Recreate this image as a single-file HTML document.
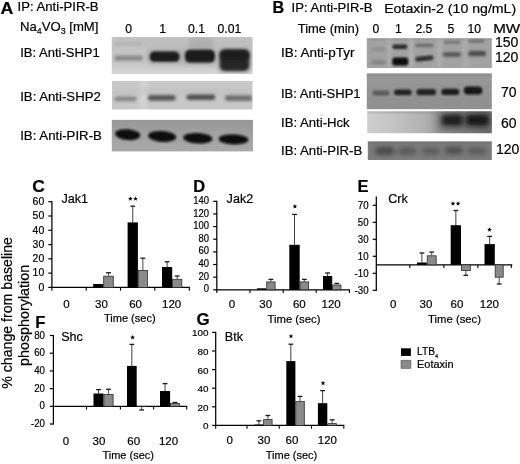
<!DOCTYPE html>
<html><head><meta charset="utf-8"><style>
html,body{margin:0;padding:0;background:#fff;width:520px;height:464px;overflow:hidden}
svg{display:block;font-family:"Liberation Sans",sans-serif}
text{stroke:#000;stroke-width:0.2px}
svg{filter:grayscale(1)}
</style></head><body>
<svg width="520" height="464" viewBox="0 0 520 464" font-family="Liberation Sans, sans-serif"><defs><filter id="bl1" x="-50%" y="-50%" width="200%" height="200%"><feGaussianBlur stdDeviation="1"/></filter><filter id="bl1_2" x="-50%" y="-50%" width="200%" height="200%"><feGaussianBlur stdDeviation="1.2"/></filter><filter id="bl1_4" x="-50%" y="-50%" width="200%" height="200%"><feGaussianBlur stdDeviation="1.4"/></filter><filter id="bl1_5" x="-50%" y="-50%" width="200%" height="200%"><feGaussianBlur stdDeviation="1.5"/></filter><filter id="bl2" x="-50%" y="-50%" width="200%" height="200%"><feGaussianBlur stdDeviation="2"/></filter><filter id="bl2_5" x="-50%" y="-50%" width="200%" height="200%"><feGaussianBlur stdDeviation="2.5"/></filter><filter id="bl3" x="-50%" y="-50%" width="200%" height="200%"><feGaussianBlur stdDeviation="3"/></filter><filter id="bl4" x="-50%" y="-50%" width="200%" height="200%"><feGaussianBlur stdDeviation="4"/></filter></defs><g><rect x="111.8" y="37" width="140.7" height="37" fill="#c6c6c6"/><defs><linearGradient id="a1v" x1="0" y1="0" x2="0" y2="1"><stop offset="0" stop-color="#000" stop-opacity="0.0"/><stop offset="0.7" stop-color="#fff" stop-opacity="0.0"/><stop offset="1" stop-color="#fff" stop-opacity="0.3"/></linearGradient></defs><rect x="111.8" y="37" width="140.7" height="37" fill="url(#a1v)"/><defs><clipPath id="a1c"><rect x="111.8" y="37" width="140.7" height="37"/></clipPath></defs><g clip-path="url(#a1c)"><rect x="113" y="38" width="139" height="9" rx="0" fill="#b8b8b8" fill-opacity="0.6" filter="url(#bl3)"/><rect x="114.5" y="55.5" width="28.30000000000001" height="5.299999999999997" rx="2.6499999999999986" fill="#888888" fill-opacity="1" filter="url(#bl1_5)"/><rect x="114.5" y="42.5" width="27.80000000000001" height="3.5" rx="1.75" fill="#a8a8a8" fill-opacity="0.5" filter="url(#bl1_5)"/><rect x="189" y="37" width="24" height="13" rx="4" fill="#a8a8a8" fill-opacity="0.7" filter="url(#bl2_5)"/><rect x="147" y="49" width="36" height="15" rx="5" fill="#909090" fill-opacity="0.5" filter="url(#bl2_5)"/><rect x="182" y="48" width="35" height="17" rx="5" fill="#909090" fill-opacity="0.5" filter="url(#bl2_5)"/><rect x="218" y="48" width="33" height="25" rx="5" fill="#909090" fill-opacity="0.5" filter="url(#bl2_5)"/><rect x="149.7" y="51.6" width="29.80000000000001" height="10.199999999999996" rx="4.5" fill="#1c1c1c" fill-opacity="1" filter="url(#bl1_2)"/><rect x="185" y="49.8" width="29.900000000000006" height="12.800000000000004" rx="5" fill="#1a1a1a" fill-opacity="1" filter="url(#bl1_2)"/><rect x="219.8" y="49.8" width="29.399999999999977" height="21.200000000000003" rx="5" fill="#262626" fill-opacity="1" filter="url(#bl1_4)"/><rect x="219.8" y="50" width="29.599999999999994" height="10" rx="5" fill="#1c1c1c" fill-opacity="0.8" filter="url(#bl1_5)"/></g></g><g><rect x="112" y="80.9" width="140.5" height="28.5" fill="#c8c8c8"/><defs><clipPath id="a2c"><rect x="112" y="80.9" width="140.5" height="28.5"/></clipPath></defs><g clip-path="url(#a2c)"><rect x="139.5" y="81" width="8.0" height="28.400000000000006" rx="0" fill="#dcdcdc" fill-opacity="0.6" filter="url(#bl2)"/><rect x="114" y="89" width="138" height="5" rx="0" fill="#bbbbbb" fill-opacity="0.5" filter="url(#bl2)"/><rect x="114.3" y="96.4" width="22.500000000000014" height="4.799999999999997" rx="2.3999999999999986" fill="#868686" fill-opacity="1" filter="url(#bl1_5)"/><rect x="147.8" y="94.9" width="28.0" height="5.8999999999999915" rx="2.9499999999999957" fill="#565656" fill-opacity="1" filter="url(#bl1_5)"/><rect x="186.5" y="94.5" width="28.80000000000001" height="5.5" rx="2.75" fill="#505050" fill-opacity="1" filter="url(#bl1_5)"/><rect x="224.8" y="95.2" width="27.69999999999999" height="5.799999999999997" rx="2.8999999999999986" fill="#6e6e6e" fill-opacity="1" filter="url(#bl1_5)"/></g></g><g><rect x="111.8" y="119.9" width="141.2" height="31.5" fill="#a4a4a4"/><defs><linearGradient id="a3v" x1="0" y1="0" x2="0" y2="1"><stop offset="0" stop-color="#000" stop-opacity="0.08"/><stop offset="1" stop-color="#fff" stop-opacity="0.05"/></linearGradient></defs><rect x="111.8" y="119.9" width="141.2" height="31.5" fill="url(#a3v)"/><defs><clipPath id="a3c"><rect x="111.8" y="119.9" width="141.2" height="31.5"/></clipPath></defs><g clip-path="url(#a3c)"><ellipse cx="127.7" cy="134.6" rx="12.6" ry="5.4" transform="rotate(5 127.7 134.6)" fill="#080808" fill-opacity="1" filter="url(#bl1)"/><ellipse cx="162.2" cy="136.4" rx="14.0" ry="5.5" transform="rotate(4 162.2 136.4)" fill="#080808" fill-opacity="1" filter="url(#bl1)"/><ellipse cx="197.8" cy="138.2" rx="14.6" ry="5.3" transform="rotate(3 197.8 138.2)" fill="#080808" fill-opacity="1" filter="url(#bl1)"/><ellipse cx="233.5" cy="139.4" rx="14.8" ry="5.0" transform="rotate(2 233.5 139.4)" fill="#080808" fill-opacity="1" filter="url(#bl1)"/></g></g><g><rect x="366.8" y="38.2" width="125" height="29.8" fill="#a2a2a2"/><defs><clipPath id="b1c"><rect x="366.8" y="38.2" width="125" height="29.8"/></clipPath></defs><g clip-path="url(#b1c)"><rect x="366.8" y="38.2" width="125.0" height="1.7999999999999972" rx="0" fill="#8a8a8a" fill-opacity="0.6" filter="url(#bl1)"/><rect x="387.5" y="38" width="4.0" height="30" rx="0" fill="#b4b4b4" fill-opacity="0.6" filter="url(#bl1_5)"/><rect x="408.5" y="38" width="5.0" height="30" rx="0" fill="#b8b8b8" fill-opacity="0.6" filter="url(#bl1_5)"/><rect x="437" y="38" width="5.5" height="30" rx="0" fill="#b4b4b4" fill-opacity="0.6" filter="url(#bl1_5)"/><rect x="462.7" y="38" width="5.300000000000011" height="30" rx="0" fill="#b4b4b4" fill-opacity="0.5" filter="url(#bl1_5)"/><rect x="371" y="47.5" width="14.399999999999977" height="3.5" rx="1.75" fill="#8c8c8c" fill-opacity="1" filter="url(#bl1_5)"/><rect x="371" y="60.2" width="15" height="4.0" rx="2.0" fill="#808080" fill-opacity="1" filter="url(#bl1_5)"/><rect x="392.3" y="44.6" width="15.099999999999966" height="4.399999999999999" rx="2.1999999999999993" fill="#2a2a2a" fill-opacity="1" filter="url(#bl1)"/><rect x="392.3" y="57.4" width="15.899999999999977" height="8.000000000000007" rx="2.5" fill="#0a0a0a" fill-opacity="1" filter="url(#bl1)"/><rect x="415.2" y="43.4" width="18.19999999999999" height="3.8000000000000043" rx="1.9000000000000021" fill="#6e6e6e" fill-opacity="1" filter="url(#bl1_2)"/><rect x="415.2" y="56.0" width="18.19999999999999" height="5.0" rx="2.5" fill="#333" fill-opacity="1" filter="url(#bl1_2)" transform="rotate(-6 424.29999999999995 58.5)"/><rect x="443.8" y="40.8" width="16.80000000000001" height="3.200000000000003" rx="1.6000000000000014" fill="#7a7a7a" fill-opacity="1" filter="url(#bl1_2)"/><rect x="442.8" y="52.4" width="18.19999999999999" height="4.200000000000003" rx="2.1000000000000014" fill="#4a4a4a" fill-opacity="1" filter="url(#bl1_5)"/><rect x="468.4" y="39.4" width="16.100000000000023" height="3.3999999999999986" rx="1.6999999999999993" fill="#707070" fill-opacity="1" filter="url(#bl1_2)"/><rect x="468.2" y="51.0" width="17.80000000000001" height="5.0" rx="2.5" fill="#464646" fill-opacity="1" filter="url(#bl1_5)"/></g></g><g><rect x="366.8" y="73.4" width="125" height="35.8" fill="#949494"/><defs><linearGradient id="b2v" x1="0" y1="0" x2="0" y2="1"><stop offset="0" stop-color="#fff" stop-opacity="0.05"/><stop offset="1" stop-color="#000" stop-opacity="0.03"/></linearGradient></defs><rect x="366.8" y="73.4" width="125" height="35.8" fill="url(#b2v)"/><defs><clipPath id="b2c"><rect x="366.8" y="73.4" width="125" height="35.8"/></clipPath></defs><g clip-path="url(#b2c)"><rect x="366.8" y="73.4" width="125.0" height="2.0999999999999943" rx="0" fill="#808080" fill-opacity="0.6" filter="url(#bl1)"/><rect x="372.5" y="90.6" width="17.0" height="5.0" rx="2.5" fill="#5a5a5a" fill-opacity="1" filter="url(#bl1_2)"/><rect x="394" y="89.4" width="17.69999999999999" height="5.8999999999999915" rx="2.9499999999999957" fill="#242424" fill-opacity="1" filter="url(#bl1_2)"/><rect x="416.5" y="89" width="19.5" height="6.299999999999997" rx="3.1499999999999986" fill="#202020" fill-opacity="1" filter="url(#bl1_2)"/><rect x="441.3" y="88.7" width="17.899999999999977" height="6.3999999999999915" rx="3.1999999999999957" fill="#1e1e1e" fill-opacity="1" filter="url(#bl1_2)"/><rect x="463.8" y="86.6" width="18.5" height="8.0" rx="4.0" fill="#181818" fill-opacity="1" filter="url(#bl1_2)"/></g></g><g><defs><linearGradient id="b3g" x1="0" y1="0" x2="1" y2="0"><stop offset="0" stop-color="#cfcfcf"/><stop offset="0.2" stop-color="#c4c4c4"/><stop offset="0.45" stop-color="#b2b2b2"/><stop offset="0.6" stop-color="#9e9e9e"/><stop offset="1" stop-color="#707070"/></linearGradient></defs><rect x="367.2" y="111.3" width="124.6" height="21.9" fill="url(#b3g)"/><defs><clipPath id="b3c"><rect x="367.2" y="111.3" width="124.6" height="21.9"/></clipPath></defs><g clip-path="url(#b3c)"><rect x="367.2" y="111.3" width="124.60000000000002" height="1.5" rx="0" fill="#707070" fill-opacity="0.5" filter="url(#bl1)"/><rect x="436" y="111" width="56" height="23" rx="0" fill="#5a5a5a" fill-opacity="0.55" filter="url(#bl4)"/><rect x="441.5" y="114.6" width="21.5" height="11.200000000000003" rx="4" fill="#1c1c1c" fill-opacity="1" filter="url(#bl2_5)"/><rect x="465.5" y="114.6" width="23.5" height="11.200000000000003" rx="4" fill="#161616" fill-opacity="1" filter="url(#bl2_5)"/></g></g><g><rect x="367.8" y="141.4" width="124" height="18.6" fill="#7c7c7c"/><defs><clipPath id="b4c"><rect x="367.8" y="141.4" width="124" height="18.6"/></clipPath></defs><g clip-path="url(#b4c)"><rect x="367.8" y="141.4" width="124.0" height="1.5999999999999943" rx="0" fill="#606060" fill-opacity="0.6" filter="url(#bl1)"/><rect x="375" y="147.2" width="19.5" height="7.400000000000006" rx="3.700000000000003" fill="#444" fill-opacity="1" filter="url(#bl2_5)"/><rect x="398" y="147.5" width="18.5" height="7.0" rx="3.5" fill="#565656" fill-opacity="1" filter="url(#bl2_5)"/><rect x="421.7" y="147.5" width="18.30000000000001" height="7.0" rx="3.5" fill="#5a5a5a" fill-opacity="1" filter="url(#bl2_5)"/><rect x="445" y="147.0" width="18" height="7.199999999999989" rx="3.5999999999999943" fill="#4e4e4e" fill-opacity="1" filter="url(#bl2_5)"/><rect x="467" y="147.5" width="19.600000000000023" height="7.0" rx="3.5" fill="#5a5a5a" fill-opacity="1" filter="url(#bl2_5)"/></g></g><text x="0.6" y="13.6" font-size="16.6" font-weight="bold" textLength="12.82" lengthAdjust="spacingAndGlyphs">A</text><text x="17.5" y="11.4" font-size="12.6" textLength="81.1" lengthAdjust="spacingAndGlyphs">IP: Anti-PIR-B</text><text x="20" y="30.9" font-size="12.6" textLength="78.4" lengthAdjust="spacingAndGlyphs">Na<tspan font-size="8.5" dy="3">4</tspan><tspan dy="-3">VO</tspan><tspan font-size="8.5" dy="3">3</tspan><tspan dy="-3"> [mM]</tspan></text><text x="125.2" y="32.9" font-size="12.2">0</text><text x="159.2" y="32.9" font-size="12.2">1</text><text x="188" y="32.9" font-size="12.2">0.1</text><text x="217.6" y="32.9" font-size="12.2">0.01</text><text x="20.2" y="56.9" font-size="12.8" textLength="79.6" lengthAdjust="spacingAndGlyphs">IB: Anti-SHP1</text><text x="20.2" y="101.1" font-size="12.8" textLength="80.6" lengthAdjust="spacingAndGlyphs">IB: Anti-SHP2</text><text x="20.2" y="139.5" font-size="12.8" textLength="81.7" lengthAdjust="spacingAndGlyphs">IB: Anti-PIR-B</text><text x="272.6" y="12.9" font-size="16.2" font-weight="bold">B</text><text x="291.6" y="11.9" font-size="12.6" textLength="81.0" lengthAdjust="spacingAndGlyphs">IP: Anti-PIR-B</text><text x="384.2" y="12.8" font-size="13" textLength="132" lengthAdjust="spacingAndGlyphs">Eotaxin-2 (10 ng/mL)</text><text x="297.8" y="32.9" font-size="12.6" textLength="61.3" lengthAdjust="spacingAndGlyphs">Time (min)</text><text x="372.6" y="32.6" font-size="12.2">0</text><text x="395" y="32.6" font-size="12.2">1</text><text x="415.4" y="32.6" font-size="12.2">2.5</text><text x="447.4" y="32.6" font-size="12.2">5</text><text x="467.6" y="32.6" font-size="12.2">10</text><text x="493.2" y="32.6" font-size="12.6" textLength="27" lengthAdjust="spacingAndGlyphs">MW</text><text x="281.0" y="57.1" font-size="12.8" textLength="73.4" lengthAdjust="spacingAndGlyphs">IB: Anti-pTyr</text><text x="281.0" y="98.1" font-size="12.8" textLength="79.6" lengthAdjust="spacingAndGlyphs">IB: Anti-SHP1</text><text x="281.0" y="127.2" font-size="12.8" textLength="68.7" lengthAdjust="spacingAndGlyphs">IB: Anti-Hck</text><text x="281.0" y="155.3" font-size="12.8" textLength="81.3" lengthAdjust="spacingAndGlyphs">IB: Anti-PIR-B</text><text x="495" y="46.6" font-size="14">150</text><text x="495" y="61.7" font-size="14">120</text><text x="501" y="96.8" font-size="14">70</text><text x="501" y="127.5" font-size="14">60</text><text x="496" y="154.3" font-size="14">120</text><line x1="51.9" y1="201.1" x2="51.9" y2="288.0" stroke="#000" stroke-width="1.25"/><line x1="48.3" y1="287.4" x2="51.9" y2="287.4" stroke="#000" stroke-width="1.2"/><line x1="48.3" y1="273.12" x2="51.9" y2="273.12" stroke="#000" stroke-width="1.2"/><line x1="48.3" y1="258.84" x2="51.9" y2="258.84" stroke="#000" stroke-width="1.2"/><line x1="48.3" y1="244.55999999999997" x2="51.9" y2="244.55999999999997" stroke="#000" stroke-width="1.2"/><line x1="48.3" y1="230.27999999999997" x2="51.9" y2="230.27999999999997" stroke="#000" stroke-width="1.2"/><line x1="48.3" y1="216.0" x2="51.9" y2="216.0" stroke="#000" stroke-width="1.2"/><line x1="48.3" y1="201.71999999999997" x2="51.9" y2="201.71999999999997" stroke="#000" stroke-width="1.2"/><line x1="51.9" y1="287.4" x2="189.8" y2="287.4" stroke="#000" stroke-width="1.3"/><line x1="51.9" y1="287.4" x2="51.9" y2="290.7" stroke="#000" stroke-width="1.1"/><line x1="86.2" y1="287.4" x2="86.2" y2="290.7" stroke="#000" stroke-width="1.1"/><line x1="120.5" y1="287.4" x2="120.5" y2="290.7" stroke="#000" stroke-width="1.1"/><line x1="154.8" y1="287.4" x2="154.8" y2="290.7" stroke="#000" stroke-width="1.1"/><line x1="189.3" y1="287.4" x2="189.3" y2="290.7" stroke="#000" stroke-width="1.1"/><rect x="93.2" y="284.0" width="10.099999999999994" height="3.3999999999999773" fill="#000"/><line x1="108.5" y1="275.8" x2="108.5" y2="272.7" stroke="#5a5a5a" stroke-width="1.1"/><line x1="106.1" y1="272.7" x2="110.9" y2="272.7" stroke="#1a1a1a" stroke-width="1.3"/><rect x="103.7" y="276.2" width="9.600000000000005" height="11.199999999999966" fill="#8a8a8a" stroke="#2e2e2e" stroke-width="0.8"/><line x1="132.75" y1="222.4" x2="132.75" y2="206.2" stroke="#2a2a2a" stroke-width="0.9"/><line x1="130.35" y1="206.2" x2="135.15" y2="206.2" stroke="#1a1a1a" stroke-width="1.3"/><rect x="127.6" y="222.4" width="10.300000000000011" height="64.99999999999997" fill="#000"/><line x1="142.85000000000002" y1="270" x2="142.85000000000002" y2="258.2" stroke="#5a5a5a" stroke-width="1.1"/><line x1="140.45000000000002" y1="258.2" x2="145.25000000000003" y2="258.2" stroke="#1a1a1a" stroke-width="1.3"/><rect x="138.3" y="270.4" width="9.100000000000005" height="16.99999999999998" fill="#8a8a8a" stroke="#2e2e2e" stroke-width="0.8"/><line x1="167.1" y1="267" x2="167.1" y2="261.8" stroke="#2a2a2a" stroke-width="0.9"/><line x1="164.7" y1="261.8" x2="169.5" y2="261.8" stroke="#1a1a1a" stroke-width="1.3"/><rect x="162.0" y="267.0" width="10.199999999999989" height="20.399999999999977" fill="#000"/><line x1="177.2" y1="278.9" x2="177.2" y2="276" stroke="#5a5a5a" stroke-width="1.1"/><line x1="174.79999999999998" y1="276" x2="179.6" y2="276" stroke="#1a1a1a" stroke-width="1.3"/><rect x="172.6" y="279.29999999999995" width="9.2" height="8.1" fill="#8a8a8a" stroke="#2e2e2e" stroke-width="0.8"/><text x="44.3" y="290.75159999999994" font-size="10.2" text-anchor="end" textLength="5.84" lengthAdjust="spacingAndGlyphs">0</text><text x="44.3" y="276.47159999999997" font-size="10.2" text-anchor="end" textLength="11.68" lengthAdjust="spacingAndGlyphs">10</text><text x="44.3" y="262.19159999999994" font-size="10.2" text-anchor="end" textLength="11.68" lengthAdjust="spacingAndGlyphs">20</text><text x="44.3" y="247.91159999999996" font-size="10.2" text-anchor="end" textLength="11.68" lengthAdjust="spacingAndGlyphs">30</text><text x="44.3" y="233.63159999999996" font-size="10.2" text-anchor="end" textLength="11.68" lengthAdjust="spacingAndGlyphs">40</text><text x="44.3" y="219.3516" font-size="10.2" text-anchor="end" textLength="11.68" lengthAdjust="spacingAndGlyphs">50</text><text x="44.3" y="205.07159999999996" font-size="10.2" text-anchor="end" textLength="11.68" lengthAdjust="spacingAndGlyphs">60</text><text x="32.2" y="192.2" font-size="16.5" font-weight="bold" textLength="12.64" lengthAdjust="spacingAndGlyphs">C</text><text x="61.4" y="202.8" font-size="12.6">Jak1</text><polygon points="130.40,196.30 131.02,197.95 132.78,198.03 131.40,199.12 131.87,200.82 130.40,199.85 128.93,200.82 129.40,199.12 128.02,198.03 129.78,197.95" fill="#000"/><polygon points="135.50,196.30 136.12,197.95 137.88,198.03 136.50,199.12 136.97,200.82 135.50,199.85 134.03,200.82 134.50,199.12 133.12,198.03 134.88,197.95" fill="#000"/><text x="63.26" y="307.9" font-size="11.5">0</text><text x="95.02" y="307.9" font-size="11.5">30</text><text x="129.22" y="307.9" font-size="11.5">60</text><text x="162.08" y="307.9" font-size="11.5">120</text><text x="103.9" y="321.5" font-size="11" textLength="51.8" lengthAdjust="spacingAndGlyphs">Time (sec)</text><line x1="216.8" y1="200.72" x2="216.8" y2="290.40000000000003" stroke="#000" stroke-width="1.25"/><line x1="213.20000000000002" y1="289.8" x2="216.8" y2="289.8" stroke="#000" stroke-width="1.2"/><line x1="213.20000000000002" y1="277.16" x2="216.8" y2="277.16" stroke="#000" stroke-width="1.2"/><line x1="213.20000000000002" y1="264.52" x2="216.8" y2="264.52" stroke="#000" stroke-width="1.2"/><line x1="213.20000000000002" y1="251.88" x2="216.8" y2="251.88" stroke="#000" stroke-width="1.2"/><line x1="213.20000000000002" y1="239.24" x2="216.8" y2="239.24" stroke="#000" stroke-width="1.2"/><line x1="213.20000000000002" y1="226.60000000000002" x2="216.8" y2="226.60000000000002" stroke="#000" stroke-width="1.2"/><line x1="213.20000000000002" y1="213.96" x2="216.8" y2="213.96" stroke="#000" stroke-width="1.2"/><line x1="213.20000000000002" y1="201.32" x2="216.8" y2="201.32" stroke="#000" stroke-width="1.2"/><line x1="216.8" y1="289.8" x2="349.9" y2="289.8" stroke="#000" stroke-width="1.3"/><line x1="216.8" y1="289.8" x2="216.8" y2="293.1" stroke="#000" stroke-width="1.1"/><line x1="250" y1="289.8" x2="250" y2="293.1" stroke="#000" stroke-width="1.1"/><line x1="283.2" y1="289.8" x2="283.2" y2="293.1" stroke="#000" stroke-width="1.1"/><line x1="316.2" y1="289.8" x2="316.2" y2="293.1" stroke="#000" stroke-width="1.1"/><line x1="349.4" y1="289.8" x2="349.4" y2="293.1" stroke="#000" stroke-width="1.1"/><rect x="257.0" y="288.3" width="9.300000000000011" height="1.5" fill="#000"/><line x1="270.9" y1="281.5" x2="270.9" y2="279.4" stroke="#5a5a5a" stroke-width="1.1"/><line x1="268.5" y1="279.4" x2="273.29999999999995" y2="279.4" stroke="#1a1a1a" stroke-width="1.3"/><rect x="266.7" y="281.9" width="8.399999999999988" height="7.900000000000011" fill="#8a8a8a" stroke="#2e2e2e" stroke-width="0.8"/><line x1="294.5" y1="244.8" x2="294.5" y2="214.4" stroke="#2a2a2a" stroke-width="0.9"/><line x1="292.1" y1="214.4" x2="296.9" y2="214.4" stroke="#1a1a1a" stroke-width="1.3"/><rect x="289.3" y="244.8" width="10.399999999999977" height="45.0" fill="#000"/><line x1="304.35" y1="281.5" x2="304.35" y2="279.4" stroke="#5a5a5a" stroke-width="1.1"/><line x1="301.95000000000005" y1="279.4" x2="306.75" y2="279.4" stroke="#1a1a1a" stroke-width="1.3"/><rect x="300.09999999999997" y="281.9" width="8.50000000000001" height="7.900000000000011" fill="#8a8a8a" stroke="#2e2e2e" stroke-width="0.8"/><line x1="327.6" y1="276" x2="327.6" y2="273" stroke="#2a2a2a" stroke-width="0.9"/><line x1="325.20000000000005" y1="273" x2="330.0" y2="273" stroke="#1a1a1a" stroke-width="1.3"/><rect x="323.0" y="276.0" width="9.199999999999989" height="13.800000000000011" fill="#000"/><line x1="336.79999999999995" y1="284.6" x2="336.79999999999995" y2="283.4" stroke="#5a5a5a" stroke-width="1.1"/><line x1="334.4" y1="283.4" x2="339.19999999999993" y2="283.4" stroke="#1a1a1a" stroke-width="1.3"/><rect x="332.59999999999997" y="285.0" width="8.399999999999988" height="4.799999999999988" fill="#8a8a8a" stroke="#2e2e2e" stroke-width="0.8"/><text x="209" y="292.40000000000003" font-size="10.2" text-anchor="end" textLength="5.27" lengthAdjust="spacingAndGlyphs">0</text><text x="209" y="279.76000000000005" font-size="10.2" text-anchor="end" textLength="10.55" lengthAdjust="spacingAndGlyphs">20</text><text x="209" y="267.12" font-size="10.2" text-anchor="end" textLength="10.55" lengthAdjust="spacingAndGlyphs">40</text><text x="209" y="254.48" font-size="10.2" text-anchor="end" textLength="10.55" lengthAdjust="spacingAndGlyphs">60</text><text x="209" y="241.84" font-size="10.2" text-anchor="end" textLength="10.55" lengthAdjust="spacingAndGlyphs">80</text><text x="209" y="229.20000000000002" font-size="10.2" text-anchor="end" textLength="15.81" lengthAdjust="spacingAndGlyphs">100</text><text x="209" y="216.56" font-size="10.2" text-anchor="end" textLength="15.81" lengthAdjust="spacingAndGlyphs">120</text><text x="209" y="203.92" font-size="10.2" text-anchor="end" textLength="15.81" lengthAdjust="spacingAndGlyphs">140</text><text x="193.2" y="191.7" font-size="16.5" font-weight="bold">D</text><text x="226.6" y="202.8" font-size="12.6">Jak2</text><polygon points="294.90,203.90 295.52,205.55 297.28,205.63 295.90,206.72 296.37,208.42 294.90,207.45 293.43,208.42 293.90,206.72 292.52,205.63 294.28,205.55" fill="#000"/><text x="228.66000000000003" y="308" font-size="11.5">0</text><text x="259.32000000000005" y="308" font-size="11.5">30</text><text x="292.92" y="308" font-size="11.5">60</text><text x="321.58" y="308" font-size="11.5">120</text><text x="267.6" y="322.5" font-size="11" textLength="52.8" lengthAdjust="spacingAndGlyphs">Time (sec)</text><line x1="376.3" y1="196.4" x2="376.3" y2="290.90000000000003" stroke="#000" stroke-width="1.25"/><line x1="372.7" y1="290.3" x2="376.3" y2="290.3" stroke="#000" stroke-width="1.2"/><line x1="372.7" y1="273.3" x2="376.3" y2="273.3" stroke="#000" stroke-width="1.2"/><line x1="372.7" y1="256.3" x2="376.3" y2="256.3" stroke="#000" stroke-width="1.2"/><line x1="372.7" y1="239.3" x2="376.3" y2="239.3" stroke="#000" stroke-width="1.2"/><line x1="372.7" y1="222.3" x2="376.3" y2="222.3" stroke="#000" stroke-width="1.2"/><line x1="372.7" y1="205.3" x2="376.3" y2="205.3" stroke="#000" stroke-width="1.2"/><line x1="376.3" y1="264.8" x2="512.3" y2="264.8" stroke="#000" stroke-width="1.3"/><line x1="409.8" y1="264.8" x2="409.8" y2="268.1" stroke="#000" stroke-width="1.1"/><line x1="443.9" y1="264.8" x2="443.9" y2="268.1" stroke="#000" stroke-width="1.1"/><line x1="477.8" y1="264.8" x2="477.8" y2="268.1" stroke="#000" stroke-width="1.1"/><line x1="511.3" y1="264.8" x2="511.3" y2="268.1" stroke="#000" stroke-width="1.1"/><line x1="421.9" y1="262.5" x2="421.9" y2="253" stroke="#2a2a2a" stroke-width="0.9"/><line x1="419.5" y1="253" x2="424.29999999999995" y2="253" stroke="#1a1a1a" stroke-width="1.3"/><rect x="417.0" y="262.5" width="9.800000000000011" height="2.3000000000000114" fill="#000"/><line x1="431.70000000000005" y1="255.4" x2="431.70000000000005" y2="252" stroke="#5a5a5a" stroke-width="1.1"/><line x1="429.30000000000007" y1="252" x2="434.1" y2="252" stroke="#1a1a1a" stroke-width="1.3"/><rect x="427.2" y="255.8" width="9.00000000000001" height="9.000000000000005" fill="#8a8a8a" stroke="#2e2e2e" stroke-width="0.8"/><line x1="455.85" y1="225.2" x2="455.85" y2="210.5" stroke="#2a2a2a" stroke-width="0.9"/><line x1="453.45000000000005" y1="210.5" x2="458.25" y2="210.5" stroke="#1a1a1a" stroke-width="1.3"/><rect x="450.7" y="225.2" width="10.300000000000011" height="39.60000000000002" fill="#000"/><line x1="465.85" y1="271" x2="465.85" y2="275.3" stroke="#5a5a5a" stroke-width="1.1"/><line x1="463.45000000000005" y1="275.3" x2="468.25" y2="275.3" stroke="#1a1a1a" stroke-width="1.3"/><rect x="461.4" y="264.8" width="8.899999999999988" height="5.799999999999988" fill="#8a8a8a" stroke="#2e2e2e" stroke-width="0.8"/><line x1="489.65" y1="244.1" x2="489.65" y2="236.4" stroke="#2a2a2a" stroke-width="0.9"/><line x1="487.25" y1="236.4" x2="492.04999999999995" y2="236.4" stroke="#1a1a1a" stroke-width="1.3"/><rect x="484.5" y="244.1" width="10.300000000000011" height="20.700000000000017" fill="#000"/><line x1="499.20000000000005" y1="277.6" x2="499.20000000000005" y2="284" stroke="#5a5a5a" stroke-width="1.1"/><line x1="496.80000000000007" y1="284" x2="501.6" y2="284" stroke="#1a1a1a" stroke-width="1.3"/><rect x="495.2" y="264.8" width="8.00000000000001" height="12.400000000000011" fill="#8a8a8a" stroke="#2e2e2e" stroke-width="0.8"/><text x="368.6" y="293.90000000000003" font-size="10.2" text-anchor="end" textLength="14.00" lengthAdjust="spacingAndGlyphs">-30</text><text x="368.6" y="276.90000000000003" font-size="10.2" text-anchor="end" textLength="14.00" lengthAdjust="spacingAndGlyphs">-10</text><text x="368.6" y="259.90000000000003" font-size="10.2" text-anchor="end" textLength="10.78" lengthAdjust="spacingAndGlyphs">10</text><text x="368.6" y="242.9" font-size="10.2" text-anchor="end" textLength="10.78" lengthAdjust="spacingAndGlyphs">30</text><text x="368.6" y="225.9" font-size="10.2" text-anchor="end" textLength="10.78" lengthAdjust="spacingAndGlyphs">50</text><text x="368.6" y="208.9" font-size="10.2" text-anchor="end" textLength="10.78" lengthAdjust="spacingAndGlyphs">70</text><text x="357.6" y="192.2" font-size="16.5" font-weight="bold">E</text><text x="388.2" y="202.8" font-size="12.6">Crk</text><polygon points="452.95,201.10 453.57,202.75 455.33,202.83 453.95,203.92 454.42,205.62 452.95,204.65 451.48,205.62 451.95,203.92 450.57,202.83 452.33,202.75" fill="#000"/><polygon points="458.05,201.10 458.67,202.75 460.43,202.83 459.05,203.92 459.52,205.62 458.05,204.65 456.58,205.62 457.05,203.92 455.67,202.83 457.43,202.75" fill="#000"/><polygon points="489.50,227.20 490.12,228.85 491.88,228.93 490.50,230.02 490.97,231.72 489.50,230.75 488.03,231.72 488.50,230.02 487.12,228.93 488.88,228.85" fill="#000"/><text x="390.06" y="307.7" font-size="11.5">0</text><text x="419.52000000000004" y="307.7" font-size="11.5">30</text><text x="450.52000000000004" y="307.7" font-size="11.5">60</text><text x="479.78" y="307.7" font-size="11.5">120</text><text x="428.1" y="323.1" font-size="11" textLength="52.9" lengthAdjust="spacingAndGlyphs">Time (sec)</text><line x1="53.4" y1="334.9" x2="53.4" y2="424.6" stroke="#000" stroke-width="1.25"/><line x1="49.8" y1="424.0" x2="53.4" y2="424.0" stroke="#000" stroke-width="1.2"/><line x1="49.8" y1="406.3" x2="53.4" y2="406.3" stroke="#000" stroke-width="1.2"/><line x1="49.8" y1="388.6" x2="53.4" y2="388.6" stroke="#000" stroke-width="1.2"/><line x1="49.8" y1="370.90000000000003" x2="53.4" y2="370.90000000000003" stroke="#000" stroke-width="1.2"/><line x1="49.8" y1="353.2" x2="53.4" y2="353.2" stroke="#000" stroke-width="1.2"/><line x1="49.8" y1="335.5" x2="53.4" y2="335.5" stroke="#000" stroke-width="1.2"/><line x1="53.4" y1="406.3" x2="187.2" y2="406.3" stroke="#000" stroke-width="1.3"/><line x1="86.5" y1="406.3" x2="86.5" y2="409.6" stroke="#000" stroke-width="1.1"/><line x1="120.4" y1="406.3" x2="120.4" y2="409.6" stroke="#000" stroke-width="1.1"/><line x1="153.6" y1="406.3" x2="153.6" y2="409.6" stroke="#000" stroke-width="1.1"/><line x1="186.7" y1="406.3" x2="186.7" y2="409.6" stroke="#000" stroke-width="1.1"/><line x1="98.5" y1="393.5" x2="98.5" y2="389.6" stroke="#2a2a2a" stroke-width="0.9"/><line x1="96.1" y1="389.6" x2="100.9" y2="389.6" stroke="#1a1a1a" stroke-width="1.3"/><rect x="93.5" y="393.5" width="10.0" height="12.800000000000011" fill="#000"/><line x1="108.5" y1="394" x2="108.5" y2="389.3" stroke="#5a5a5a" stroke-width="1.1"/><line x1="106.1" y1="389.3" x2="110.9" y2="389.3" stroke="#1a1a1a" stroke-width="1.3"/><rect x="103.9" y="394.4" width="9.2" height="11.900000000000011" fill="#8a8a8a" stroke="#2e2e2e" stroke-width="0.8"/><line x1="131.85" y1="365.9" x2="131.85" y2="344.4" stroke="#2a2a2a" stroke-width="0.9"/><line x1="129.45" y1="344.4" x2="134.25" y2="344.4" stroke="#1a1a1a" stroke-width="1.3"/><rect x="127.0" y="365.9" width="9.699999999999989" height="40.400000000000034" fill="#000"/><line x1="141.6" y1="407" x2="141.6" y2="410" stroke="#5a5a5a" stroke-width="1.1"/><line x1="139.2" y1="410" x2="144.0" y2="410" stroke="#1a1a1a" stroke-width="1.3"/><rect x="137.1" y="406.3" width="9.00000000000001" height="0.2999999999999886" fill="#8a8a8a" stroke="#2e2e2e" stroke-width="0.8"/><line x1="165.05" y1="391" x2="165.05" y2="383.6" stroke="#2a2a2a" stroke-width="0.9"/><line x1="162.65" y1="383.6" x2="167.45000000000002" y2="383.6" stroke="#1a1a1a" stroke-width="1.3"/><rect x="160.0" y="391.0" width="10.099999999999994" height="15.300000000000011" fill="#000"/><line x1="174.95" y1="403" x2="174.95" y2="402.5" stroke="#5a5a5a" stroke-width="1.1"/><line x1="172.54999999999998" y1="402.5" x2="177.35" y2="402.5" stroke="#1a1a1a" stroke-width="1.3"/><rect x="170.5" y="403.4" width="8.900000000000016" height="2.9000000000000115" fill="#8a8a8a" stroke="#2e2e2e" stroke-width="0.8"/><text x="45" y="427.1" font-size="10.2" text-anchor="end" textLength="14.00" lengthAdjust="spacingAndGlyphs">-20</text><text x="45" y="409.40000000000003" font-size="10.2" text-anchor="end" textLength="5.39" lengthAdjust="spacingAndGlyphs">0</text><text x="45" y="391.70000000000005" font-size="10.2" text-anchor="end" textLength="10.78" lengthAdjust="spacingAndGlyphs">20</text><text x="45" y="374.00000000000006" font-size="10.2" text-anchor="end" textLength="10.78" lengthAdjust="spacingAndGlyphs">40</text><text x="45" y="356.3" font-size="10.2" text-anchor="end" textLength="10.78" lengthAdjust="spacingAndGlyphs">60</text><text x="45" y="338.6" font-size="10.2" text-anchor="end" textLength="10.78" lengthAdjust="spacingAndGlyphs">80</text><text x="35.2" y="328.1" font-size="16.5" font-weight="bold">F</text><text x="61.2" y="341" font-size="12.6">Shc</text><polygon points="132.60,334.90 133.22,336.55 134.98,336.63 133.60,337.72 134.07,339.42 132.60,338.45 131.13,339.42 131.60,337.72 130.22,336.63 131.98,336.55" fill="#000"/><text x="62.86" y="444.6" font-size="11.5">0</text><text x="92.52" y="444.6" font-size="11.5">30</text><text x="127.32" y="444.6" font-size="11.5">60</text><text x="158.98000000000002" y="444.6" font-size="11.5">120</text><text x="102.4" y="459.4" font-size="11" textLength="51.6" lengthAdjust="spacingAndGlyphs">Time (sec)</text><line x1="215.7" y1="331.79999999999995" x2="215.7" y2="426.0" stroke="#000" stroke-width="1.25"/><line x1="212.1" y1="425.4" x2="215.7" y2="425.4" stroke="#000" stroke-width="1.2"/><line x1="212.1" y1="406.79999999999995" x2="215.7" y2="406.79999999999995" stroke="#000" stroke-width="1.2"/><line x1="212.1" y1="388.2" x2="215.7" y2="388.2" stroke="#000" stroke-width="1.2"/><line x1="212.1" y1="369.59999999999997" x2="215.7" y2="369.59999999999997" stroke="#000" stroke-width="1.2"/><line x1="212.1" y1="351.0" x2="215.7" y2="351.0" stroke="#000" stroke-width="1.2"/><line x1="212.1" y1="332.4" x2="215.7" y2="332.4" stroke="#000" stroke-width="1.2"/><line x1="215.7" y1="425.4" x2="344.3" y2="425.4" stroke="#000" stroke-width="1.3"/><line x1="215.7" y1="425.4" x2="215.7" y2="428.7" stroke="#000" stroke-width="1.1"/><line x1="247" y1="425.4" x2="247" y2="428.7" stroke="#000" stroke-width="1.1"/><line x1="279.2" y1="425.4" x2="279.2" y2="428.7" stroke="#000" stroke-width="1.1"/><line x1="311.5" y1="425.4" x2="311.5" y2="428.7" stroke="#000" stroke-width="1.1"/><line x1="343.8" y1="425.4" x2="343.8" y2="428.7" stroke="#000" stroke-width="1.1"/><line x1="258.9" y1="424.5" x2="258.9" y2="420.8" stroke="#2a2a2a" stroke-width="0.9"/><line x1="256.5" y1="420.8" x2="261.29999999999995" y2="420.8" stroke="#1a1a1a" stroke-width="1.3"/><rect x="254.6" y="424.5" width="8.599999999999994" height="0.8999999999999773" fill="#000"/><line x1="267.85" y1="419.2" x2="267.85" y2="415.5" stroke="#5a5a5a" stroke-width="1.1"/><line x1="265.45000000000005" y1="415.5" x2="270.25" y2="415.5" stroke="#1a1a1a" stroke-width="1.3"/><rect x="263.59999999999997" y="419.59999999999997" width="8.50000000000001" height="5.799999999999988" fill="#8a8a8a" stroke="#2e2e2e" stroke-width="0.8"/><line x1="290.85" y1="361.1" x2="290.85" y2="344.2" stroke="#2a2a2a" stroke-width="0.9"/><line x1="288.45000000000005" y1="344.2" x2="293.25" y2="344.2" stroke="#1a1a1a" stroke-width="1.3"/><rect x="286.3" y="361.1" width="9.099999999999966" height="64.29999999999995" fill="#000"/><line x1="300.04999999999995" y1="401.1" x2="300.04999999999995" y2="396.4" stroke="#5a5a5a" stroke-width="1.1"/><line x1="297.65" y1="396.4" x2="302.44999999999993" y2="396.4" stroke="#1a1a1a" stroke-width="1.3"/><rect x="295.79999999999995" y="401.5" width="8.50000000000001" height="23.899999999999956" fill="#8a8a8a" stroke="#2e2e2e" stroke-width="0.8"/><line x1="322.6" y1="403.2" x2="322.6" y2="390.6" stroke="#2a2a2a" stroke-width="0.9"/><line x1="320.20000000000005" y1="390.6" x2="325.0" y2="390.6" stroke="#1a1a1a" stroke-width="1.3"/><rect x="317.9" y="403.2" width="9.400000000000034" height="22.19999999999999" fill="#000"/><line x1="332.15" y1="423.2" x2="332.15" y2="419.8" stroke="#5a5a5a" stroke-width="1.1"/><line x1="329.75" y1="419.8" x2="334.54999999999995" y2="419.8" stroke="#1a1a1a" stroke-width="1.3"/><rect x="327.9" y="423.59999999999997" width="8.50000000000001" height="1.7999999999999887" fill="#8a8a8a" stroke="#2e2e2e" stroke-width="0.8"/><text x="208.4" y="429.4" font-size="9.9" text-anchor="end">0</text><text x="208.4" y="410.79999999999995" font-size="9.9" text-anchor="end">20</text><text x="208.4" y="392.2" font-size="9.9" text-anchor="end">40</text><text x="208.4" y="373.59999999999997" font-size="9.9" text-anchor="end">60</text><text x="208.4" y="355.0" font-size="9.9" text-anchor="end">80</text><text x="208.4" y="336.4" font-size="9.9" text-anchor="end">100</text><text x="196.4" y="325.1" font-size="16.9" font-weight="bold">G</text><text x="224.8" y="340.8" font-size="12.6">Btk</text><polygon points="291.00,333.80 291.62,335.45 293.38,335.53 292.00,336.62 292.47,338.32 291.00,337.35 289.53,338.32 290.00,336.62 288.62,335.53 290.38,335.45" fill="#000"/><polygon points="323.00,380.70 323.62,382.35 325.38,382.43 324.00,383.52 324.47,385.22 323.00,384.25 321.53,385.22 322.00,383.52 320.62,382.43 322.38,382.35" fill="#000"/><text x="226.46" y="443.9" font-size="11.5">0</text><text x="257.52000000000004" y="443.9" font-size="11.5">30</text><text x="285.52000000000004" y="443.9" font-size="11.5">60</text><text x="317.78" y="443.9" font-size="11.5">120</text><text x="265.8" y="459.2" font-size="11" textLength="51.4" lengthAdjust="spacingAndGlyphs">Time (sec)</text><text x="11.7" y="388.8" font-size="14.5" textLength="151.8" lengthAdjust="spacingAndGlyphs" transform="rotate(-90 11.7 388.8)">% change from baseline</text><text x="29" y="366" font-size="14.5" textLength="101.2" lengthAdjust="spacingAndGlyphs" transform="rotate(-90 29 366)">phosphorylation</text><rect x="401" y="348.3" width="9.9" height="7.6" fill="#000"/><rect x="401" y="360.2" width="9.9" height="8.1" fill="#8a8a8a" stroke="#555" stroke-width="0.6"/><text x="417" y="354.6" font-size="10.2">LTB<tspan font-size="5.6" dy="3.2">4</tspan></text><text x="417" y="367.7" font-size="10.2" textLength="36.5" lengthAdjust="spacingAndGlyphs">Eotaxin</text></svg>
</body></html>
